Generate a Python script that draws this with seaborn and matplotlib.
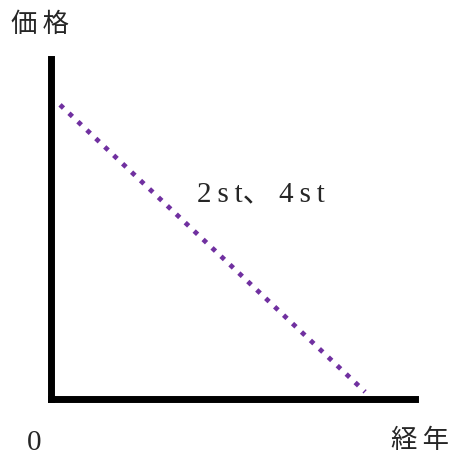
import matplotlib
matplotlib.use("Agg")
import matplotlib.pyplot as plt
import seaborn as sns
import pandas as pd

# price falls linearly over the years
years = [0, 10]
price = [10, 0]
y_label = "価\u2009格"
x_label = "経\u2009年"
origin_label = "0"
line_label = "2\u2009s\u2009t、 4\u2009s\u2009t"

sns.set_style("white")
plt.rcParams["font.family"] = ["Liberation Serif", "Noto Sans CJK JP", "DejaVu Sans"]

df = pd.DataFrame({"years": years, "price": price})

fig = plt.figure(figsize=(4.52, 4.61), dpi=100)
ax = fig.add_axes([51 / 452, 62 / 461, 363.5 / 452, 339.5 / 461])

sns.lineplot(
    data=df,
    x="years",
    y="price",
    color="#7030A0",
    linewidth=3.4,
    ax=ax,
)
line = ax.lines[0]
line.set_linestyle((0, (1, 1.6)))
line.set_dash_capstyle("butt")

ax.set_xlim(-0.296, 11.62)
ax.set_ylim(-0.25, 11.58)
ax.set_xticks([])
ax.set_yticks([])
ax.set_xlabel("")
ax.set_ylabel("")
for side in ["top", "right"]:
    ax.spines[side].set_visible(False)
for side in ["left", "bottom"]:
    ax.spines[side].set_linewidth(5.0)
    ax.spines[side].set_color("black")
    ax.spines[side].set_capstyle("projecting")

fig.text(11 / 452, 1 - 25 / 461, y_label, fontsize=19, va="center", ha="left")
fig.text(449 / 452, 1 - 441 / 461, x_label, fontsize=19, va="center", ha="right")
fig.text(34 / 452, 1 - 443 / 461, origin_label, fontsize=21, va="center", ha="center")
fig.text(197 / 452, 1 - 194 / 461, line_label, fontsize=21, va="center", ha="left")

fig.savefig("out.png", dpi=100)
